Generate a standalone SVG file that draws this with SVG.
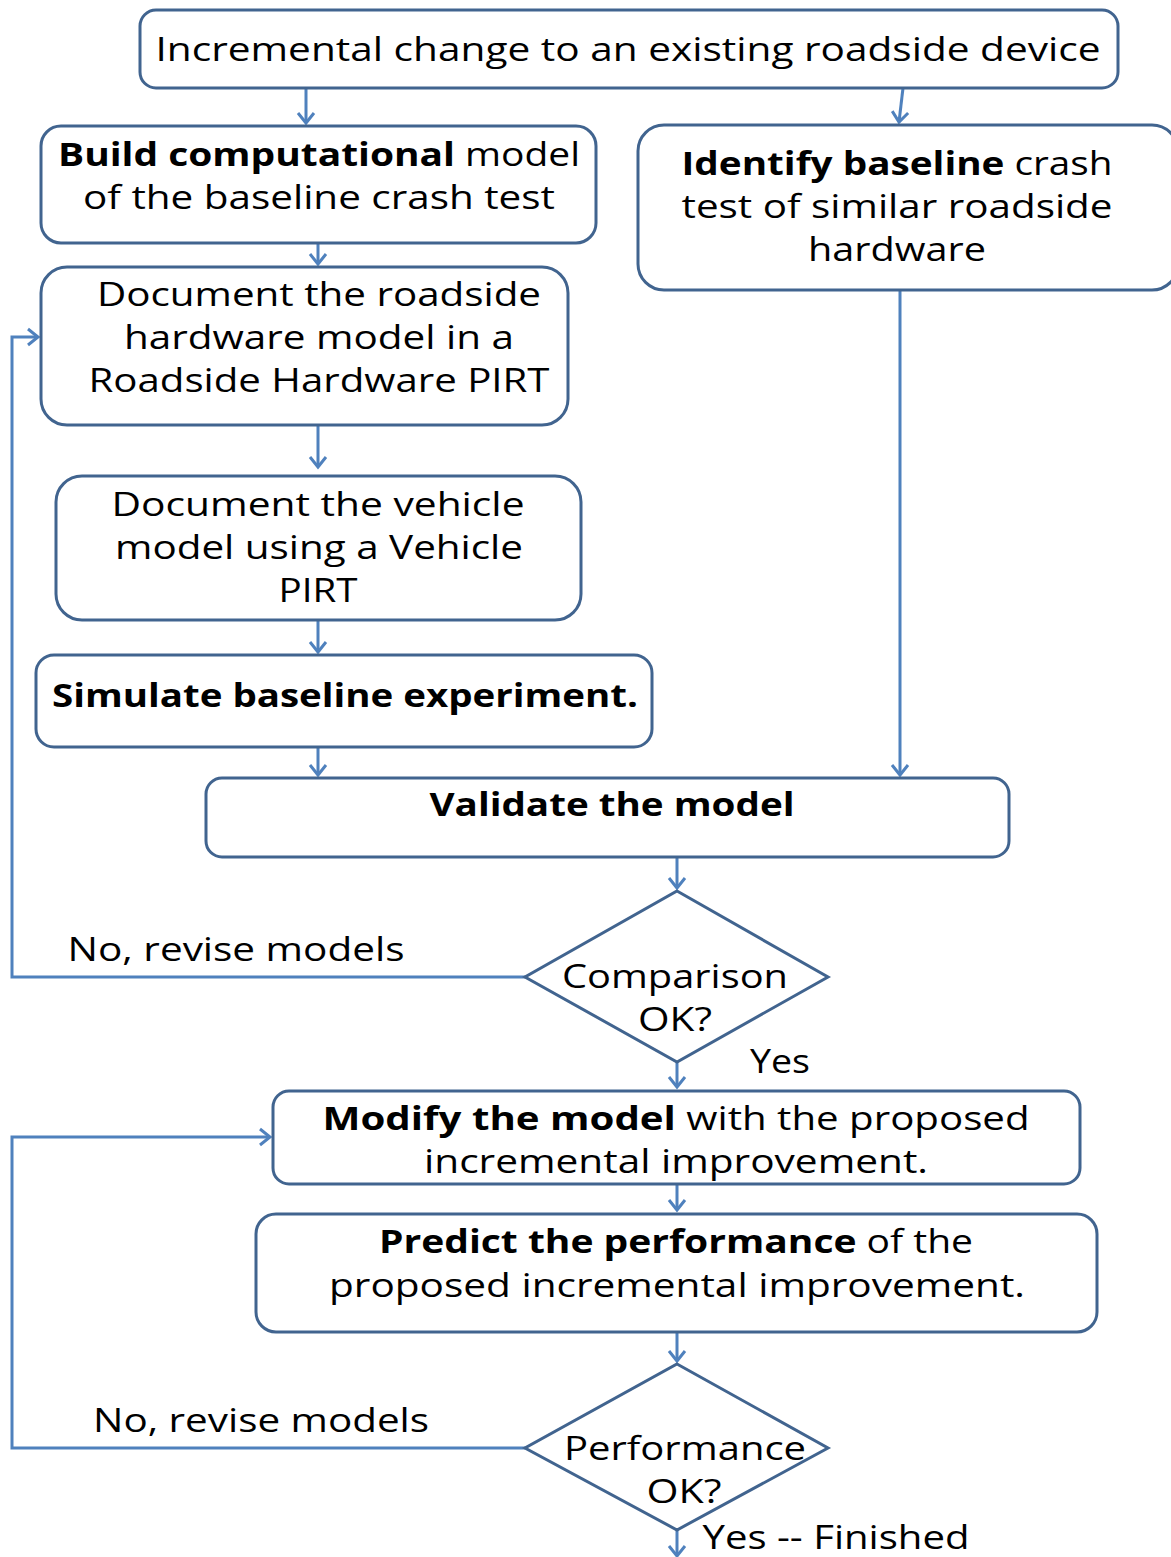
<svg xmlns="http://www.w3.org/2000/svg" width="1171" height="1557" viewBox="0 0 1171 1557">
<style>
.box{fill:#fff;stroke:#41648f;stroke-width:3}
.t{font-family:"Open Sans","Noto Sans",sans-serif;font-size:33px;fill:#000;text-anchor:middle}
.b{font-weight:bold}
.c{fill:none;stroke:#4f81bd;stroke-width:3}
</style>
<defs>
<marker id="ah" markerUnits="userSpaceOnUse" markerWidth="22" markerHeight="22" refX="12" refY="10" orient="auto">
<path d="M2,2 L12,10 L2,18" fill="none" stroke="#4f81bd" stroke-width="3"/>
</marker>
</defs>
<rect width="1171" height="1557" fill="#fff"/>
<g id="connectors">
<path class="c" d="M306,88 V123" marker-end="url(#ah)"/>
<path class="c" d="M903,88 L899,122" marker-end="url(#ah)"/>
<path class="c" d="M318,243 V264" marker-end="url(#ah)"/>
<path class="c" d="M318,426 V467" marker-end="url(#ah)"/>
<path class="c" d="M318,621 V652" marker-end="url(#ah)"/>
<path class="c" d="M318,748 V775" marker-end="url(#ah)"/>
<path class="c" d="M900,290 V775" marker-end="url(#ah)"/>
<path class="c" d="M677,857 V888" marker-end="url(#ah)"/>
<path class="c" d="M677,1062 V1087" marker-end="url(#ah)"/>
<path class="c" d="M677,1185 V1210" marker-end="url(#ah)"/>
<path class="c" d="M677,1332 V1361" marker-end="url(#ah)"/>
<path class="c" d="M677,1530 V1556" marker-end="url(#ah)"/>
<path class="c" d="M525,977 H12 V337 H38" marker-end="url(#ah)"/>
<path class="c" d="M525,1448 H12 V1137 H270" marker-end="url(#ah)"/>
<text class="t" x="236" y="961" textLength="337" lengthAdjust="spacingAndGlyphs">No, revise models</text>
<text class="t" x="780" y="1073" textLength="60" lengthAdjust="spacingAndGlyphs">Yes</text>
<text class="t" x="261" y="1432" textLength="336" lengthAdjust="spacingAndGlyphs">No, revise models</text>
<text class="t" x="836" y="1549" font-size="31" textLength="267" lengthAdjust="spacingAndGlyphs">Yes -- Finished</text>
</g>
<g id="n_start">
<rect class="box" x="140" y="10" width="978" height="78" rx="16"/>
<text class="t" x="628" y="61" textLength="945" lengthAdjust="spacingAndGlyphs">Incremental change to an existing roadside device</text>
</g>
<g id="n_build">
<rect class="box" x="41" y="126" width="555" height="117" rx="20"/>
<text class="t" x="319" y="166" textLength="522" lengthAdjust="spacingAndGlyphs"><tspan class="b">Build computational</tspan> model</text>
<text class="t" x="319" y="209" textLength="472" lengthAdjust="spacingAndGlyphs">of the baseline crash test</text>
</g>
<g id="n_identify">
<rect class="box" x="638" y="125" width="540" height="165" rx="26"/>
<text class="t" x="897" y="175" textLength="431" lengthAdjust="spacingAndGlyphs"><tspan class="b">Identify baseline</tspan> crash</text>
<text class="t" x="897" y="218" textLength="431" lengthAdjust="spacingAndGlyphs">test of similar roadside</text>
<text class="t" x="897" y="261" textLength="178" lengthAdjust="spacingAndGlyphs">hardware</text>
</g>
<g id="n_doc_hw">
<rect class="box" x="41" y="267" width="527" height="158" rx="26"/>
<text class="t" x="319" y="306" textLength="444" lengthAdjust="spacingAndGlyphs">Document the roadside</text>
<text class="t" x="319" y="349" textLength="390" lengthAdjust="spacingAndGlyphs">hardware model in a</text>
<text class="t" x="319" y="392" textLength="461" lengthAdjust="spacingAndGlyphs">Roadside Hardware PIRT</text>
</g>
<g id="n_doc_veh">
<rect class="box" x="56" y="476" width="525" height="144" rx="26"/>
<text class="t" x="318" y="516" textLength="413" lengthAdjust="spacingAndGlyphs">Document the vehicle</text>
<text class="t" x="319" y="559" textLength="408" lengthAdjust="spacingAndGlyphs">model using a Vehicle</text>
<text class="t" x="318" y="602" textLength="79" lengthAdjust="spacingAndGlyphs">PIRT</text>
</g>
<g id="n_simulate">
<rect class="box" x="36" y="655" width="616" height="92" rx="18"/>
<text class="t b" x="345" y="707" textLength="586" lengthAdjust="spacingAndGlyphs">Simulate baseline experiment.</text>
</g>
<g id="n_validate">
<rect class="box" x="206" y="778" width="803" height="79" rx="16"/>
<text class="t b" x="612" y="816" textLength="365" lengthAdjust="spacingAndGlyphs">Validate the model</text>
</g>
<g id="n_compare">
<polygon class="box" points="677,891 828,977 677,1062 525,977"/>
<text class="t" x="675" y="988" textLength="226" lengthAdjust="spacingAndGlyphs">Comparison</text>
<text class="t" x="675" y="1031" textLength="74" lengthAdjust="spacingAndGlyphs">OK?</text>
</g>
<g id="n_modify">
<rect class="box" x="273" y="1091" width="807" height="93" rx="16"/>
<text class="t" x="676" y="1130" textLength="707" lengthAdjust="spacingAndGlyphs"><tspan class="b">Modify the model</tspan> with the proposed</text>
<text class="t" x="676" y="1173" textLength="504" lengthAdjust="spacingAndGlyphs">incremental improvement.</text>
</g>
<g id="n_predict">
<rect class="box" x="256" y="1214" width="841" height="118" rx="20"/>
<text class="t" x="676" y="1253" textLength="594" lengthAdjust="spacingAndGlyphs"><tspan class="b">Predict the performance</tspan> of the</text>
<text class="t" x="677" y="1297" textLength="696" lengthAdjust="spacingAndGlyphs">proposed incremental improvement.</text>
</g>
<g id="n_perf">
<polygon class="box" points="677,1364 828,1448 677,1530 525,1448"/>
<text class="t" x="685" y="1460" textLength="242" lengthAdjust="spacingAndGlyphs">Performance</text>
<text class="t" x="684" y="1503" textLength="75" lengthAdjust="spacingAndGlyphs">OK?</text>
</g>
</svg>
